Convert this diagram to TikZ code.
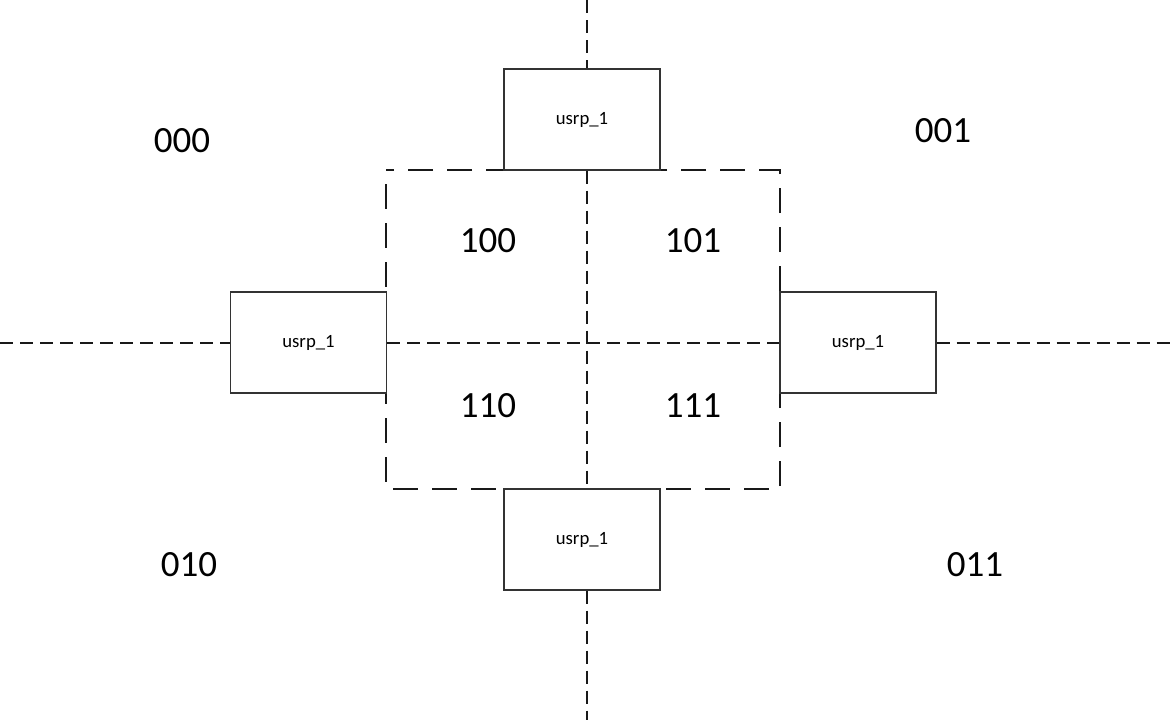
\documentclass[tikz,border=0pt]{standalone}
\usepackage{fontspec}
\setmainfont{Carlito}
\begin{document}
\begin{tikzpicture}[x=1pt,y=-1pt,
  usrpbox/.style={draw=black!80,line width=1.2pt,fill=white,minimum width=156pt,minimum height=101pt,inner sep=0pt,font=\fontsize{18.7}{22}\selectfont},
  biglabel/.style={font=\fontsize{37}{44}\selectfont,inner sep=0pt},
  axisdash/.style={draw=black!90,line width=1.8pt,dash pattern=on 13pt off 7pt},
  regiondash/.style={draw=black!90,line width=1.8pt,dash pattern=on 25pt off 14pt,dash phase=25pt}]
\useasboundingbox (0,0) rectangle (1176,720);
% region rectangle
\coordinate (rtl) at (386,170);
\coordinate (rbr) at (780,489);
\draw[regiondash] (rtl) rectangle (rbr);
% axis coordinates
\coordinate (n) at (587,0);
\coordinate (s) at (587,720);
\coordinate (w) at (0,343);
\coordinate (e) at (1176,343);
% boxes
\node[usrpbox] (tbox) at (582,119.5) {usrp\_1};
\node[usrpbox] (bbox) at (582,539.5) {usrp\_1};
\node[usrpbox] (lbox) at (308.5,342.5) {usrp\_1};
\node[usrpbox] (rbox) at (858,342.5) {usrp\_1};
% axes
\draw[axisdash] (n) -- (n |- tbox.north);
\draw[axisdash] (n |- tbox.south) -- (n |- bbox.north);
\draw[axisdash] (s |- bbox.south) -- (s);
\draw[axisdash] (w) -- (w -| lbox.west);
\draw[axisdash] (w -| lbox.east) -- (w -| rbox.west);
\draw[axisdash] (e -| rbox.east) -- (e);
% labels
\node[biglabel] (l000) at (182,141) {000};
\node[biglabel] (l001) at (943,131) {001};
\node[biglabel] (l100) at (488,241) {100};
\node[biglabel] (l101) at (693,241) {101};
\node[biglabel] (l110) at (488,406) {110};
\node[biglabel] (l111) at (693,406) {111};
\node[biglabel] (l010) at (189,565) {010};
\node[biglabel] (l011) at (975,565) {011};
\end{tikzpicture}
\end{document}
